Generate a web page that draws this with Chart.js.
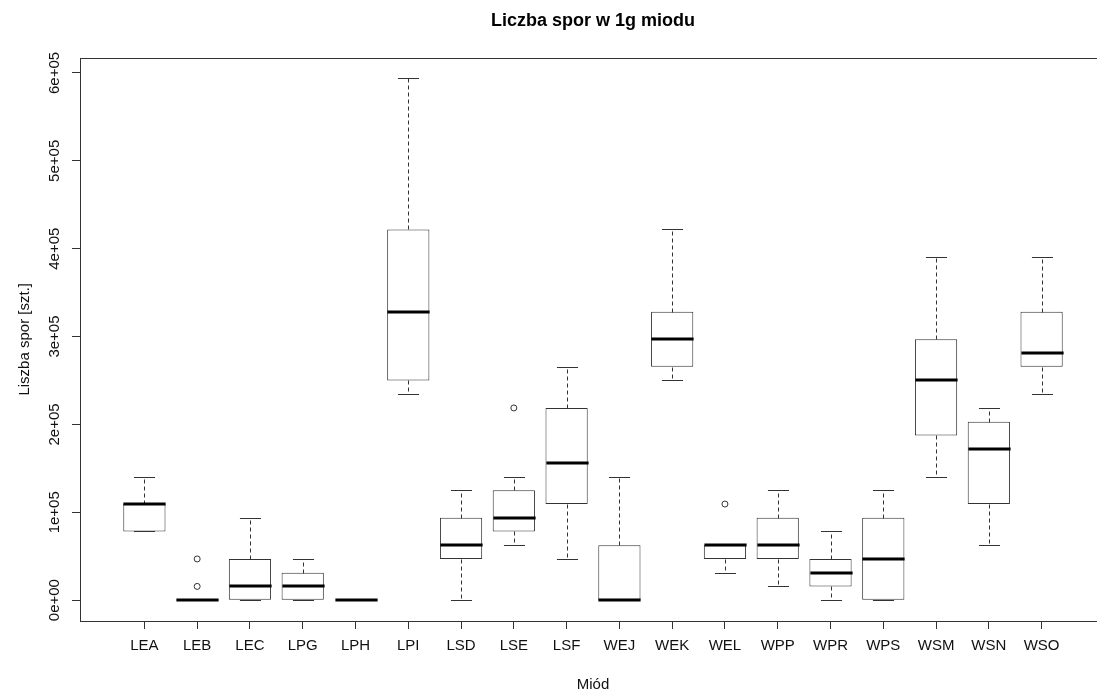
<!DOCTYPE html>
<html>
<head>
<meta charset="utf-8">
<title>Liczba spor w 1g miodu</title>
<script src="https://cdn.jsdelivr.net/npm/chart.js@4.4.1/dist/chart.umd.min.js"></script>
<style>
  html, body { margin: 0; padding: 0; background: #fff; overflow: hidden; }
</style>
</head>
<body>
<canvas id="box-chart" width="1120" height="691"></canvas>
<script>
// five-number summaries per honey sample (spores per 1 g)
var honeys = ['LEA', 'LEB', 'LEC', 'LPG', 'LPH', 'LPI', 'LSD', 'LSE', 'LSF',
              'WEJ', 'WEK', 'WEL', 'WPP', 'WPR', 'WPS', 'WSM', 'WSN', 'WSO'];
var whiskerLow = [78125, 0, 0, 0, 0, 234375, 0, 62500, 46875,
                  0, 250000, 31250, 15625, 0, 0, 140625, 62500, 234375];
var q1 = [78125, 0, 0, 0, 0, 250000, 46875, 78125, 109375,
          0, 265625, 46875, 46875, 15625, 0, 187500, 109375, 265625];
var median = [109375, 0, 15625, 15625, 0, 328125, 62500, 93750, 156250,
              0, 296875, 62500, 62500, 31250, 46875, 250000, 171875, 281250];
var q3 = [109375, 0, 46875, 31250, 0, 421875, 93750, 125000, 218750,
          62500, 328125, 62500, 93750, 46875, 93750, 296875, 203125, 328125];
var whiskerHigh = [140625, 0, 93750, 46875, 0, 593750, 125000, 140625, 265625,
                   140625, 421875, 62500, 125000, 78125, 125000, 390625, 218750, 390625];

// points beyond the whiskers
var outlierHoney = ['LEB', 'LEB', 'LSE', 'WEL'];
var outlierValue = [15625, 46875, 218750, 109375];

var yTicks = [0, 100000, 200000, 300000, 400000, 500000, 600000];
var yTickLabels = ['0e+00', '1e+05', '2e+05', '3e+05', '4e+05', '5e+05', '6e+05'];

var FONT = "'Liberation Sans', Arial, sans-serif";
var INK = '#333';

// whiskers, staples and medians on top of the boxes
var boxLines = {
  id: 'boxLines',
  afterDatasetsDraw: function (chart) {
    var ctx = chart.ctx, xs = chart.scales.x, ys = chart.scales.y;
    var halfBox = xs.getPixelForValue(1.4) - xs.getPixelForValue(1);
    function py(v) { return Math.round(ys.getPixelForValue(v)) + 0.5; }
    function seg(x1, y1, x2, y2) {
      ctx.beginPath(); ctx.moveTo(x1, y1); ctx.lineTo(x2, y2); ctx.stroke();
    }
    ctx.save();
    honeys.forEach(function (h, i) {
      var cx = Math.round(xs.getPixelForValue(i + 1)) + 0.5;
      ctx.strokeStyle = INK;
      ctx.lineWidth = 1;
      ctx.setLineDash([4, 3]);
      seg(cx, py(q3[i]), cx, py(whiskerHigh[i]));
      seg(cx, py(q1[i]), cx, py(whiskerLow[i]));
      ctx.setLineDash([]);
      seg(cx - halfBox / 2, py(whiskerHigh[i]), cx + halfBox / 2, py(whiskerHigh[i]));
      seg(cx - halfBox / 2, py(whiskerLow[i]), cx + halfBox / 2, py(whiskerLow[i]));
      ctx.strokeStyle = '#000';
      ctx.lineWidth = 3;
      var my = Math.round(ys.getPixelForValue(median[i]));
      seg(cx - halfBox, my, cx + halfBox, my);
    });
    // frame around the plot region
    var a = chart.chartArea;
    ctx.strokeStyle = INK;
    ctx.lineWidth = 1;
    ctx.strokeRect(Math.round(a.left) + 0.5, Math.round(a.top) + 0.5,
                   Math.round(a.right - a.left), Math.round(a.bottom - a.top));
    ctx.restore();
  }
};

new Chart(document.getElementById('box-chart'), {
  type: 'bar',
  data: {
    datasets: [
      {
        label: 'IQR',
        data: honeys.map(function (h, i) { return { x: i + 1, y: [q1[i], q3[i]] }; }),
        backgroundColor: '#fff',
        borderColor: INK,
        borderWidth: 1,
        borderSkipped: false,
        categoryPercentage: 0.8,
        barPercentage: 1
      },
      {
        type: 'scatter',
        label: 'outliers',
        data: outlierHoney.map(function (h, i) {
          return { x: honeys.indexOf(h) + 1, y: outlierValue[i] };
        }),
        pointStyle: 'circle',
        pointRadius: 3,
        pointBorderWidth: 1,
        pointBorderColor: INK,
        pointBackgroundColor: '#fff'
      }
    ]
  },
  options: {
    responsive: false,
    animation: false,
    layout: { padding: { left: 0, top: 0, right: 14, bottom: 0 } },
    plugins: {
      legend: { display: false },
      tooltip: { enabled: false },
      title: {
        display: true,
        text: 'Liczba spor w 1g miodu',
        fullSize: false,
        color: '#000',
        font: { family: FONT, size: 18, weight: 'bold' },
        padding: { top: 10, bottom: 26 }
      }
    },
    scales: {
      x: {
        type: 'linear',
        offset: false,
        min: -0.22,
        max: 19.22,
        afterBuildTicks: function (s) {
          s.ticks = honeys.map(function (h, i) { return { value: i + 1 }; });
        },
        afterFit: function (s) { s.height = 70; },
        border: { display: false },
        grid: { offset: false, drawOnChartArea: false, tickLength: 8, color: INK },
        ticks: {
          autoSkip: false,
          maxRotation: 0,
          padding: 8,
          color: '#111',
          font: { family: FONT, size: 15 },
          callback: function (v) { return honeys[v - 1]; }
        },
        title: {
          display: true,
          text: 'Miód',
          color: '#111',
          font: { family: FONT, size: 15 },
          padding: { top: 0, bottom: -3 }
        }
      },
      y: {
        min: -23750,
        max: 617500,
        afterBuildTicks: function (s) {
          s.ticks = yTicks.map(function (v) { return { value: v }; });
        },
        afterFit: function (s) { s.width = 80; },
        border: { display: false },
        grid: { drawOnChartArea: false, tickLength: 8, color: INK },
        ticks: {
          minRotation: 90,
          maxRotation: 90,
          crossAlign: 'center',
          padding: -4,
          color: '#111',
          font: { family: FONT, size: 15 },
          callback: function (v) { return yTickLabels[yTicks.indexOf(v)]; }
        },
        title: {
          display: true,
          text: 'Liszba spor [szt.]',
          color: '#111',
          font: { family: FONT, size: 15 },
          padding: { top: 16, bottom: 0 }
        }
      }
    }
  },
  plugins: [boxLines]
});
</script>
</body>
</html>
